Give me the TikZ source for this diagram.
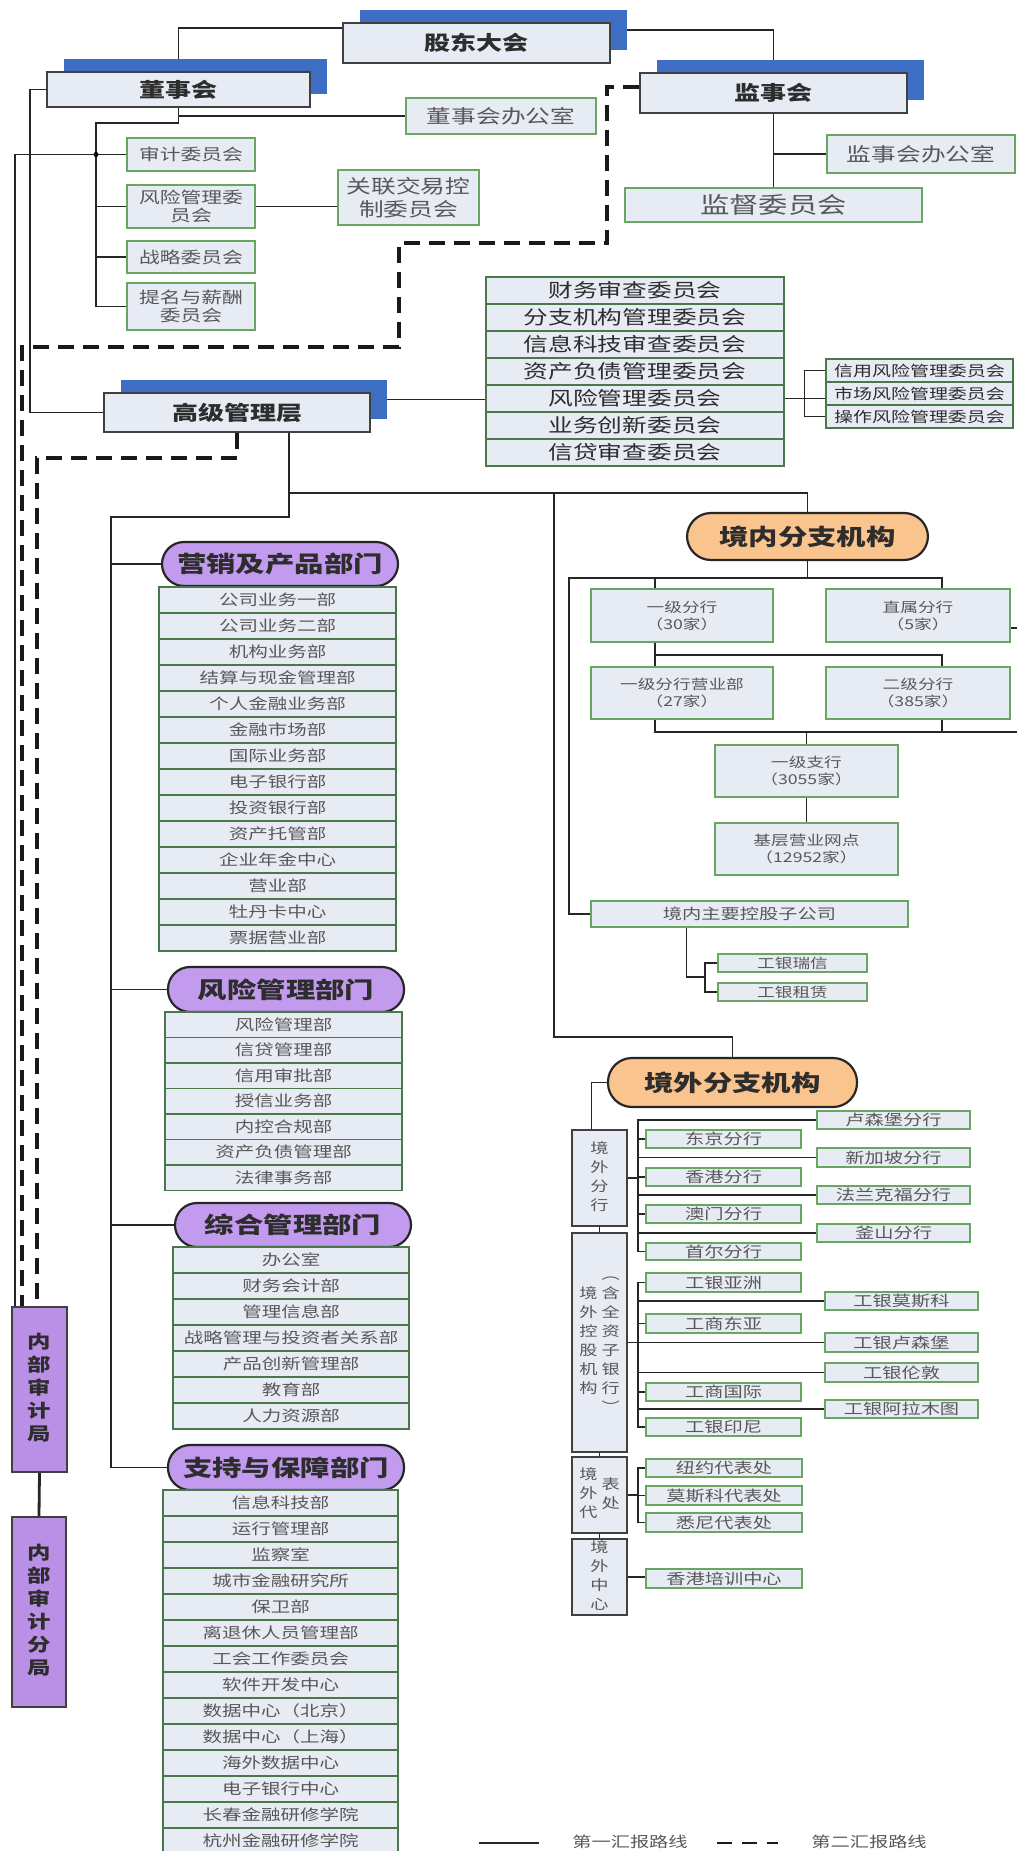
\documentclass[tikz,border=0pt]{standalone}
\usepackage{fontspec}
\setmainfont{Noto Sans CJK SC}[FakeStretch = 1.3]
\definecolor{shadowBlue}{RGB}{62,110,196}
\definecolor{boxFill}{RGB}{231,235,244}
\definecolor{boxLine}{RGB}{64,64,64}
\definecolor{greenLine}{RGB}{104,166,98}
\definecolor{rowLine}{RGB}{74,120,74}
\definecolor{pillPurple}{RGB}{194,155,238}
\definecolor{pillOrange}{RGB}{250,196,142}
\definecolor{auditPurple}{RGB}{186,143,230}
\definecolor{textGray}{RGB}{88,88,88}
\definecolor{textDark}{RGB}{45,45,45}
\newcommand{\headSize}{\fontsize{10}{12}\selectfont\bfseries}
\newcommand{\officeSize}{\fontsize{9.5}{11.5}\selectfont}
\newcommand{\bigSize}{\fontsize{11.3}{13}\selectfont}
\newcommand{\committeeSize}{\fontsize{8}{9}\selectfont}
\newcommand{\relatedSize}{\fontsize{9.5}{11.5}\selectfont}
\newcommand{\smallSize}{\fontsize{7.3}{9}\selectfont}
\newcommand{\listSize}{\fontsize{7.5}{9}\selectfont}
\newcommand{\pillSize}{\fontsize{11.3}{13}\selectfont\bfseries}
\newcommand{\domesticSize}{\fontsize{6.8}{8.5}\selectfont}
\newcommand{\overseasSize}{\fontsize{7.4}{9}\selectfont}
\newcommand{\verticalSize}{\fontsize{7}{9.5}\selectfont}
\newcommand{\auditSize}{\fontsize{9}{11.5}\selectfont\bfseries}
\tikzstyle{chart} = [x = .5pt, y = -.5pt]
\tikzstyle{headBox} = [draw = boxLine, fill = boxFill, line width = .9pt, inner sep = 0pt, text = textDark, font = \headSize]
\tikzstyle{headShadow} = [fill = shadowBlue, inner sep = 0pt]
\tikzstyle{greenBox} = [draw = greenLine, fill = boxFill, line width = .9pt, inner sep = 0pt, text = textGray, align = center]
\tikzstyle{listRow} = [draw = rowLine, fill = boxFill, line width = .7pt, inner sep = 0pt, text = textGray, font = \listSize]
\tikzstyle{grayBox} = [draw = boxLine, fill = boxFill, line width = .9pt, inner sep = 0pt, text = textGray, font = \verticalSize]
\tikzstyle{deptPill} = [draw = black!85, fill = pillPurple, line width = 1.1pt, rounded corners = 11pt, inner sep = 0pt, text = textDark, font = \pillSize]
\tikzstyle{branchPill} = [deptPill, fill = pillOrange, rounded corners = 12pt]
\tikzstyle{auditBox} = [draw = boxLine, fill = auditPurple, line width = 1pt, inner sep = 0pt, text = textDark, font = \auditSize]
\tikzstyle{linkLine} = [draw = black!85, line width = .8pt]
\tikzstyle{dashLink} = [draw = black!90, line width = 1.7pt, dash pattern = on 8pt off 4.5pt]
\tikzstyle{legendText} = [text = textGray, font = \overseasSize, inner sep = 0pt]
\newcommand{\cornerNode}[7]{\node [#1, minimum width = {((#4) - (#2)) * .5pt}, minimum height = {((#5) - (#3)) * .5pt}] (#6) at ({((#2) + (#4)) / 2}, {((#3) + (#5)) / 2}) {#7};}
\newcommand{\headBox}[6]{
  \cornerNode{headShadow}{(#2) + 17}{(#3) - 13}{(#4) + 17}{(#5) - 13}{#1-s}{}
  \cornerNode{headBox}{#2}{#3}{#4}{#5}{#1}{#6}
}
\newcommand{\rowList}[7]{
  \foreach \entry [count=\idx] in {#7} {
    \pgfmathsetmacro{\rowTop}{#5 + (\idx - 1) * #6}
    \pgfmathsetmacro{\rowBottom}{#5 + \idx * #6}
    \cornerNode{#1}{#3}{\rowTop}{#4}{\rowBottom}{#2-\idx}{\entry}
  }
}
\newcommand{\vText}[1]{\begin{tabular}[c]{@{}c@{}}#1\end{tabular}}

\begin{document}
\begin{tikzpicture}[chart]
  \useasboundingbox (0, 0) rectangle (1017, 1851);
  \fill [white] (0, 0) rectangle (1017, 1851);

  \headBox{shareholders}{343}{23}{610}{63}{股东大会}
  \headBox{board}{47}{72}{310}{107}{董事会}
  \headBox{supervisors}{640}{73}{907}{113}{监事会}
  \headBox{seniorMgmt}{104}{393}{370}{432}{高级管理层}

  \cornerNode{greenBox, font = \officeSize}{406}{98}{596}{134}{boardOffice}{董事会办公室}
  \cornerNode{greenBox, font = \officeSize}{827}{135}{1015}{173}{supervisorsOffice}{监事会办公室}
  \cornerNode{greenBox, font = \bigSize}{625}{188}{922}{222}{supervision}{监督委员会}
  \cornerNode{greenBox, font = \committeeSize}{127}{138}{255}{171}{auditCommittee}{审计委员会}
  \cornerNode{greenBox, font = \committeeSize}{127}{185}{255}{228}{riskCommittee}{风险管理委\\员会}
  \cornerNode{greenBox, font = \committeeSize}{127}{241}{255}{273}{strategyCommittee}{战略委员会}
  \cornerNode{greenBox, font = \committeeSize}{127}{283}{255}{330}{nominationCommittee}{提名与薪酬\\委员会}
  \cornerNode{greenBox, font = \relatedSize}{338}{170}{479}{225}{relatedParty}{关联交易控\\制委员会}

  \rowList{listRow, font = \officeSize, text = textDark}{mgmtCommittee}{486}{784}{277}{27}{财务审查委员会,分支机构管理委员会,信息科技审查委员会,资产负债管理委员会,风险管理委员会,业务创新委员会,信贷审查委员会}
  \rowList{listRow, font = \smallSize, text = textDark}{riskSub}{826}{1013}{359}{23}{信用风险管理委员会,市场风险管理委员会,操作风险管理委员会}

  \cornerNode{deptPill}{162}{542}{398}{586}{marketing}{营销及产品部门}
  \rowList{listRow}{marketingList}{159}{396}{587}{26}{公司业务一部,公司业务二部,机构业务部,结算与现金管理部,个人金融业务部,金融市场部,国际业务部,电子银行部,投资银行部,资产托管部,企业年金中心,营业部,牡丹卡中心,票据营业部}
  \cornerNode{deptPill}{168}{967}{404}{1012}{riskDept}{风险管理部门}
  \rowList{listRow}{riskList}{165}{402}{1012}{25.5}{风险管理部,信贷管理部,信用审批部,授信业务部,内控合规部,资产负债管理部,法律事务部}
  \cornerNode{deptPill}{175}{1203}{411}{1247}{adminDept}{综合管理部门}
  \rowList{listRow}{adminList}{173}{409}{1247}{26}{办公室,财务会计部,管理信息部,战略管理与投资者关系部,产品创新管理部,教育部,人力资源部}
  \cornerNode{deptPill}{168}{1445}{404}{1490}{supportDept}{支持与保障部门}
  \rowList{listRow}{supportList}{163}{398}{1490}{26}{信息科技部,运行管理部,监察室,城市金融研究所,保卫部,离退休人员管理部,工会工作委员会,软件开发中心,数据中心（北京）,数据中心（上海）,海外数据中心,电子银行中心,长春金融研修学院,杭州金融研修学院}

  \cornerNode{auditBox}{12}{1307}{67}{1472}{internalAudit}{\vText{内\\部\\审\\计\\局}}
  \cornerNode{auditBox}{12}{1517}{66}{1707}{auditSubBureau}{\vText{内\\部\\审\\计\\分\\局}}

  \cornerNode{branchPill}{687}{513}{928}{560}{domestic}{境内分支机构}
  \cornerNode{greenBox, font = \domesticSize}{591}{589}{773}{642}{tier1Branch}{一级分行\\（30家）}
  \cornerNode{greenBox, font = \domesticSize}{826}{589}{1010}{642}{directBranch}{直属分行\\（5家）}
  \cornerNode{greenBox, font = \domesticSize}{591}{667}{773}{719}{tier1Business}{一级分行营业部\\（27家）}
  \cornerNode{greenBox, font = \domesticSize}{826}{667}{1010}{719}{tier2Branch}{二级分行\\（385家）}
  \cornerNode{greenBox, font = \domesticSize}{715}{745}{898}{797}{subBranch}{一级支行\\（3055家）}
  \cornerNode{greenBox, font = \domesticSize}{715}{823}{898}{875}{outlets}{基层营业网点\\（12952家）}
  \cornerNode{greenBox, font = \overseasSize}{591}{901}{908}{927}{domesticHolding}{境内主要控股子公司}
  \cornerNode{greenBox, font = \domesticSize}{718}{954}{867}{972}{icbcCredit}{工银瑞信}
  \cornerNode{greenBox, font = \domesticSize}{718}{983}{867}{1001}{icbcLeasing}{工银租赁}

  \cornerNode{branchPill}{608}{1058}{857}{1107}{overseas}{境外分支机构}
  \cornerNode{grayBox}{572}{1130}{627}{1226}{overseasBranch}{\vText{境\\外\\分\\行}}
  \cornerNode{grayBox}{572}{1233}{627}{1452}{overseasHolding}{\vText{境\\外\\控\\股\\机\\构}\hspace{2pt}\vText{︵\\含\\全\\资\\子\\银\\行\\︶}}
  \cornerNode{grayBox}{572}{1457}{627}{1533}{overseasRep}{\vText{境\\外\\代}\hspace{2pt}\vText{表\\处}}
  \cornerNode{grayBox}{572}{1539}{627}{1615}{overseasCenter}{\vText{境\\外\\中\\心}}

  \cornerNode{greenBox, font = \overseasSize}{646}{1130}{801}{1148}{tokyo}{东京分行}
  \cornerNode{greenBox, font = \overseasSize}{646}{1168}{801}{1186}{hongKong}{香港分行}
  \cornerNode{greenBox, font = \overseasSize}{646}{1205}{801}{1223}{macau}{澳门分行}
  \cornerNode{greenBox, font = \overseasSize}{646}{1243}{801}{1260}{seoul}{首尔分行}
  \cornerNode{greenBox, font = \overseasSize}{817}{1111}{970}{1129}{luxembourg}{卢森堡分行}
  \cornerNode{greenBox, font = \overseasSize}{817}{1148}{970}{1167}{singapore}{新加坡分行}
  \cornerNode{greenBox, font = \overseasSize}{817}{1186}{970}{1204}{frankfurt}{法兰克福分行}
  \cornerNode{greenBox, font = \overseasSize}{817}{1224}{970}{1242}{busan}{釜山分行}

  \cornerNode{greenBox, font = \overseasSize}{646}{1273}{801}{1292}{icbcAsia}{工银亚洲}
  \cornerNode{greenBox, font = \overseasSize}{646}{1314}{801}{1333}{icbcEastAsia}{工商东亚}
  \cornerNode{greenBox, font = \overseasSize}{646}{1383}{801}{1401}{icbcIntl}{工商国际}
  \cornerNode{greenBox, font = \overseasSize}{646}{1418}{801}{1436}{icbcIndonesia}{工银印尼}
  \cornerNode{greenBox, font = \overseasSize}{825}{1292}{978}{1310}{icbcMoscow}{工银莫斯科}
  \cornerNode{greenBox, font = \overseasSize}{825}{1333}{978}{1352}{icbcLuxembourg}{工银卢森堡}
  \cornerNode{greenBox, font = \overseasSize}{825}{1363}{978}{1382}{icbcLondon}{工银伦敦}
  \cornerNode{greenBox, font = \overseasSize}{825}{1400}{978}{1418}{icbcAlmaty}{工银阿拉木图}

  \cornerNode{greenBox, font = \overseasSize}{646}{1459}{802}{1477}{repNewYork}{纽约代表处}
  \cornerNode{greenBox, font = \overseasSize}{646}{1486}{802}{1505}{repMoscow}{莫斯科代表处}
  \cornerNode{greenBox, font = \overseasSize}{646}{1513}{802}{1532}{repSydney}{悉尼代表处}
  \cornerNode{greenBox, font = \overseasSize}{646}{1569}{802}{1588}{hkTraining}{香港培训中心}

  \coordinate (wySpine) at (96, 123);
  \coordinate (dashTurnA) at (607, 243);
  \coordinate (dashTurnB) at (399, 347);
  \coordinate (deptSpine) at (111, 517);
  \coordinate (mgmtBus) at (289, 493);
  \coordinate (overseasDrop) at (554, 493);
  \coordinate (zsEdge) at (1017, 628);
  \coordinate (zjBusEnd) at (1017, 732);
  \coordinate (kgBracket) at (706, 977);
  \coordinate (fhSpine) at (638, 1120);

  \draw [linkLine] ([yshift = 7.5pt]shareholders.west) -| (board.north |- board-s.north);
  \draw [linkLine] (shareholders-s.east) -| (supervisors.north |- supervisors-s.north);
  \draw [linkLine] (board.west) -- ++(-16, 0) |- (seniorMgmt.west);
  \draw [linkLine] (board.south) |- (boardOffice.west);
  \draw [linkLine] (board.south) |- (wySpine) |- (nominationCommittee.west);
  \foreach \committee in {auditCommittee, riskCommittee, strategyCommittee} {
    \draw [linkLine] (wySpine |- \committee.west) -- (\committee.west);
  }
  \fill (wySpine |- auditCommittee.west) circle (2.5);
  \draw [linkLine] (wySpine |- auditCommittee.west) -| ([xshift = 2pt]internalAudit.north west);
  \draw [linkLine] (riskCommittee.east) -- (riskCommittee.east -| relatedParty.west);
  \draw [dashLink] ([yshift = 3pt]supervisors.west) -| (dashTurnA) -| (dashTurnB) -| ([xshift = 5.5pt]internalAudit.north west);
  \draw [dashLink] (seniorMgmt.south) -- ++(0, 25) -| ([xshift = 13pt]internalAudit.north west);
  \draw [linkLine] (supervisors.south) -- (supervision.north);
  \draw [linkLine] (supervisorsOffice.west) -- (supervisorsOffice.west -| supervisors.south);

  \draw [linkLine] (seniorMgmt-s.east) -- (seniorMgmt-s.east -| mgmtCommittee-5.west);
  \draw [linkLine] (mgmtCommittee-5.east) -- (mgmtCommittee-5.east -| riskSub-2.west);
  \draw [linkLine] (riskSub-1.west) -- ++(-21, 0) |- (riskSub-3.west);

  \draw [linkLine] ([xshift = 26pt]seniorMgmt.south) |- (deptSpine) |- (supportDept.west);
  \foreach \dept in {marketing, riskDept, adminDept} {
    \draw [linkLine] (deptSpine |- \dept.west) -- (\dept.west);
  }
  \draw [linkLine] (mgmtBus) -| (domestic.north);
  \draw [linkLine] (overseasDrop) -- ++(0, 544) -| (overseas.north);

  \draw [linkLine] (domestic.south) -- ++(0, 17) coordinate (jnBus);
  \draw [linkLine] ([xshift = 12pt]directBranch.north) |- (jnBus) -| ([xshift = -10.5pt]domesticHolding.west) -- (domesticHolding.west);
  \draw [linkLine] ([xshift = -13.5pt]tier1Branch.north) -- ([xshift = -13.5pt]tier1Branch.north |- jnBus);
  \draw [linkLine] ([xshift = -13.5pt]tier1Branch.south) -- ([xshift = -13.5pt]tier1Business.north);
  \draw [linkLine] ([xshift = -13.5pt, yshift = -6pt]tier1Branch.south) -| ([xshift = 12pt]tier2Branch.north);
  \draw [linkLine] (directBranch.east |- zsEdge) -- (zsEdge);
  \draw [linkLine] ([xshift = -13.5pt]tier1Business.south) |- (zjBusEnd);
  \draw [linkLine] ([xshift = 12pt]tier2Branch.south) -- ([xshift = 12pt]tier2Branch.south |- zjBusEnd);
  \draw [linkLine] (subBranch.north) -- (subBranch.north |- zjBusEnd);
  \draw [linkLine] (subBranch.south) -- (outlets.north);
  \draw [linkLine] ([xshift = -31.5pt]domesticHolding.south) |- (kgBracket);
  \draw [linkLine] (icbcCredit.west) -- ++(-12, 0) |- (icbcLeasing.west);

  \draw [linkLine] (overseas.west) -| ([xshift = -4pt]overseasBranch.north);
  \draw [linkLine] (overseasBranch.south) -- (overseasHolding.north);
  \draw [linkLine] (overseasHolding.south) -- (overseasRep.north);
  \draw [linkLine] (overseasRep.south) -- (overseasCenter.north);

  \draw [linkLine] (luxembourg.west) -- (fhSpine) |- (seoul.west);
  \foreach \branch in {tokyo, hongKong, macau, singapore, frankfurt, busan} {
    \draw [linkLine] (fhSpine |- \branch.west) -- (\branch.west);
  }
  \draw [linkLine] (overseasBranch.east) -- (overseasBranch.east -| fhSpine);

  \draw [linkLine] (icbcAsia.west) -- (icbcAsia.west -| fhSpine) |- (icbcIndonesia.west);
  \foreach \bank in {icbcEastAsia, icbcIntl, icbcMoscow, icbcLuxembourg, icbcLondon, icbcAlmaty} {
    \draw [linkLine] (fhSpine |- \bank.west) -- (\bank.west);
  }
  \draw [linkLine] (overseasHolding.east) -- (overseasHolding.east -| fhSpine);

  \draw [linkLine] (repNewYork.west) -- (repNewYork.west -| fhSpine) |- (repSydney.west);
  \draw [linkLine] (fhSpine |- repMoscow.west) -- (repMoscow.west);
  \draw [linkLine] (overseasRep.east) -- (overseasRep.east -| fhSpine);
  \draw [linkLine] (overseasCenter.east) -- (overseasCenter.east -| hkTraining.west);

  \draw [linkLine, line width = 1.4pt] (internalAudit.south) -- (auditSubBureau.north);

  \coordinate (legendSolid) at (479, 1843);
  \coordinate (legendDash) at (717, 1843);
  \draw [linkLine] (legendSolid) -- ++(60, 0);
  \node [legendText] (legendFirst) at (630, 1842) {第一汇报路线};
  \draw [dashLink, line width = 1.2pt, dash pattern = on 7.5pt off 5pt] (legendDash) -- ++(61, 0);
  \node [legendText] (legendSecond) at (869, 1842) {第二汇报路线};
\end{tikzpicture}
\end{document}
